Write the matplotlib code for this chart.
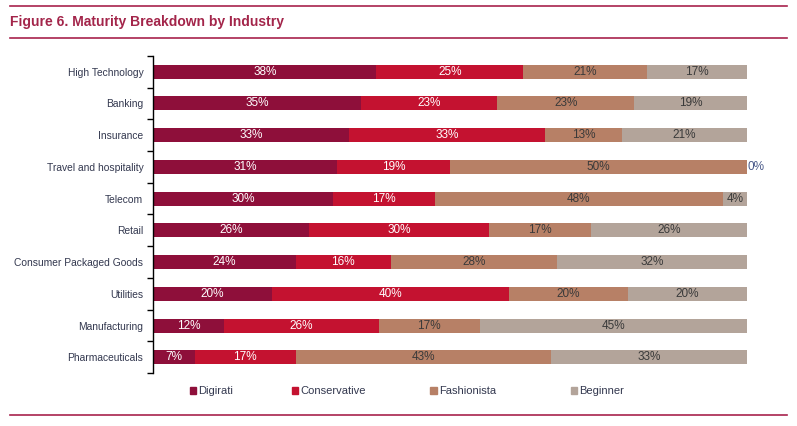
import numpy as np
import matplotlib.pyplot as plt
from matplotlib.lines import Line2D

industries = ["High Technology", "Banking", "Insurance", "Travel and hospitality", "Telecom",
              "Retail", "Consumer Packaged Goods", "Utilities", "Manufacturing", "Pharmaceuticals"]
digirati = [38, 35, 33, 31, 30, 26, 24, 20, 12, 7]
conservative = [25, 23, 33, 19, 17, 30, 16, 40, 26, 17]
fashionista = [21, 23, 13, 50, 48, 17, 28, 20, 17, 43]
beginner = [17, 19, 21, 0, 4, 26, 32, 20, 45, 33]
segments = ["Digirati", "Conservative", "Fashionista", "Beginner"]
colors = ["#8E0F3A", "#C41230", "#B78066", "#B3A49A"]
text_colors = ["white", "white", "#3a3a3a", "#3a3a3a"]

plt.rcParams['font.family'] = ['Liberation Sans', 'DejaVu Sans']

fig = plt.figure(figsize=(7.97, 4.26), dpi=100)
ax = fig.add_axes([0.192, 0.124, 0.745, 0.745])

data = np.array([digirati, conservative, fashionista, beginner], dtype=float)
shares = data / data.sum(axis=0) * 100  # rows don't always add to exactly 100
y = np.arange(len(industries))
left = np.zeros(len(industries))
for i, name in enumerate(segments):
    ax.barh(y, shares[i], left=left, height=0.44, color=colors[i], label=name)
    for j in range(len(industries)):
        if data[i, j] > 0:
            ax.text(left[j] + shares[i, j] / 2, y[j], "%d%%" % data[i, j], ha="center", va="center",
                    fontsize=8.5, color=text_colors[i])
        else:
            ax.text(left[j] + shares[i, j] + 0.1, y[j], "%d%%" % data[i, j], ha="left", va="center",
                    fontsize=8.5, color="#4a5a8a")
    left += shares[i]

ax.set_xlim(0, 100)
ax.set_ylim(len(industries) - 0.5, -0.5)
ax.set_yticks(np.arange(-0.5, len(industries)), [])
ax.set_yticks(y, industries, minor=True)
ax.tick_params(axis="y", which="major", length=4, width=1, direction="out")
ax.tick_params(axis="y", which="minor", length=0, pad=7, labelsize=7.4, labelcolor="#33384f")
ax.set_xticks([])
for s in ["top", "right", "bottom"]:
    ax.spines[s].set_visible(False)
ax.spines["left"].set_linewidth(1)

# legend entries are spaced unevenly in the original, so one small legend per entry
legend_x = [0.238, 0.366, 0.540, 0.716]
for name, c, lx in zip(segments, colors, legend_x):
    h = plt.Rectangle((0, 0), 1, 1, color=c)
    fig.legend([h], [name], loc="center left", bbox_to_anchor=(lx, 0.082), frameon=False,
               fontsize=8, handlelength=0.6, handleheight=0.6, handletextpad=0.2,
               borderaxespad=0, borderpad=0, labelcolor="#33384f")

line_color = "#A8234D"
fig.add_artist(Line2D([0.013, 0.987], [0.986, 0.986], color=line_color, lw=1.2))
fig.add_artist(Line2D([0.013, 0.987], [0.911, 0.911], color=line_color, lw=1.2))
fig.add_artist(Line2D([0.013, 0.987], [0.026, 0.026], color=line_color, lw=1.2))
fig.text(0.013, 0.948, "Figure 6. Maturity Breakdown by Industry", fontsize=10, fontweight="bold",
         color="#A3254A", va="center")

fig.savefig("out.png", dpi=100)
